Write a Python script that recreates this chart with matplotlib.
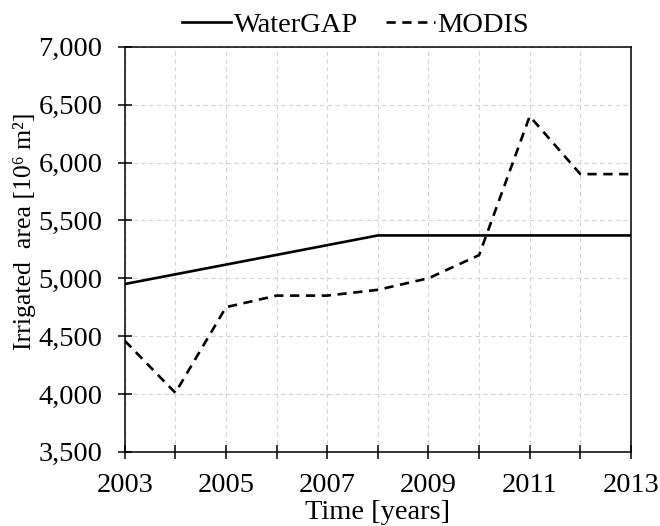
import matplotlib
matplotlib.use("Agg")
import matplotlib.pyplot as plt
from matplotlib.ticker import MultipleLocator, FixedLocator, FuncFormatter

years = [2003, 2004, 2005, 2006, 2007, 2008, 2009, 2010, 2011, 2012, 2013]
watergap = [4950, 5034, 5118, 5202, 5286, 5370, 5370, 5370, 5370, 5370, 5370]
modis = [4460, 4010, 4750, 4850, 4850, 4900, 5000, 5200, 6400, 5900, 5900]
x_labels = [2003, 2005, 2007, 2009, 2011, 2013]

plt.rcParams['font.family'] = ['Liberation Serif', 'DejaVu Serif']

FS = 20.5
fig = plt.figure(figsize=(6.6, 5.26), dpi=100)
ax = fig.add_axes([0.189, 0.141, 0.767, 0.770])

ax.plot(years, watergap, color='black', lw=1.9, label='WaterGAP')
ax.plot(years, modis, color='black', lw=1.9, ls=(0, (3.5, 2.5)), label='MODIS')

ax.set_xlim(2003, 2013)
ax.set_ylim(3500, 7000)
ax.xaxis.set_major_locator(FixedLocator(x_labels))
ax.xaxis.set_minor_locator(MultipleLocator(1))
ax.yaxis.set_major_locator(MultipleLocator(500))
ax.yaxis.set_major_formatter(FuncFormatter(lambda v, p: f"{int(v):,}"))

ax.grid(True, which='both', axis='x', color='#d4d4d4', ls=(0, (4, 3)), lw=0.8)
ax.grid(True, which='major', axis='y', color='#d4d4d4', ls=(0, (4, 3)), lw=0.8)
ax.set_axisbelow(True)

ax.tick_params(which='both', direction='inout', length=10, width=1.1, labelsize=FS,
               colors='black')
ax.tick_params(axis='x', pad=10)
ax.tick_params(axis='y', pad=11)
for s in ax.spines.values():
    s.set_linewidth(1.1)

ax.set_xlabel('Time [years]', fontsize=FS, labelpad=2)
ax.set_ylabel('Irrigated  area [10\u2076 m\u00b2]', fontsize=18.5)
ax.yaxis.set_label_coords(-0.176, 0.545)

fig.legend(loc='center', bbox_to_anchor=(0.539, 0.953), ncol=2, frameon=False,
           fontsize=FS, handlelength=1.7, handletextpad=0.1, columnspacing=1.0,
           borderaxespad=0, borderpad=0)

fig.savefig('out.png', dpi=100)
